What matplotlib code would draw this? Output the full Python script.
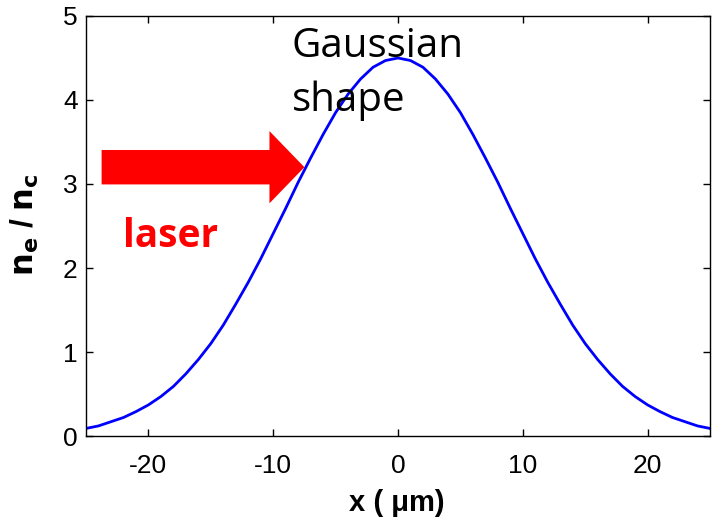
import matplotlib
matplotlib.use("Agg")
import matplotlib.pyplot as plt
import matplotlib.patches as mpatches

# density profile (x in um, ne/nc)
x_um = [-25, -24, -23, -22, -21, -20, -19, -18, -17, -16, -15, -14, -13, -12, -11,
        -10, -9, -8, -7, -6, -5, -4, -3, -2, -1, 0,
        1, 2, 3, 4, 5, 6, 7, 8, 9, 10, 11, 12, 13, 14,
        15, 16, 17, 18, 19, 20, 21, 22, 23, 24, 25]
ne_nc = [0.09, 0.12, 0.17, 0.22, 0.29, 0.37, 0.47, 0.59, 0.74, 0.91, 1.10, 1.32, 1.57, 1.83, 2.11,
         2.41, 2.71, 3.02, 3.31, 3.59, 3.85, 4.07, 4.25, 4.39, 4.47, 4.50,
         4.47, 4.39, 4.25, 4.07, 3.85, 3.59, 3.31, 3.02, 2.71, 2.41, 2.11, 1.83, 1.57, 1.32,
         1.10, 0.91, 0.74, 0.59, 0.47, 0.37, 0.29, 0.22, 0.17, 0.12, 0.09]

x_ticks = [-20, -10, 0, 10, 20]
y_ticks = [0, 1, 2, 3, 4, 5]

plt.rcParams["axes.unicode_minus"] = False
tick_font = ["Liberation Sans Narrow", "Liberation Sans", "DejaVu Sans"]

fig = plt.figure(figsize=(7.12, 5.18), dpi=100)
ax = fig.add_axes([86 / 712, 82 / 518, 624 / 712, 420 / 518])

ax.plot(x_um, ne_nc, color=(0, 0, 1), linewidth=2)

ax.set_xlim(-25, 25)
ax.set_ylim(0, 5)
ax.set_xticks(x_ticks)
ax.set_yticks(y_ticks)
ax.tick_params(direction="in", top=True, right=True, length=5, width=1)
ax.tick_params(axis="x", pad=13)
ax.tick_params(axis="y", pad=6)
for lab in ax.get_xticklabels() + ax.get_yticklabels():
    lab.set_family(tick_font)
    lab.set_fontsize(19)
for s in ax.spines.values():
    s.set_linewidth(1)

# red laser arrow
arrow = mpatches.FancyArrow(-23.75, 3.2, 16.25, 0, width=0.41, head_width=0.86,
                            head_length=2.8, length_includes_head=True,
                            color=(1, 0, 0), linewidth=0)
ax.add_patch(arrow)

ax.text(-22.0, 2.25, "laser", color=(1, 0, 0), fontsize=28, fontweight="bold",
        family=["Open Sans", "DejaVu Sans"], ha="left", va="baseline")
ax.text(-8.5, 4.88, "Gaussian\nshape", color="black", fontsize=29,
        family=["Open Sans", "DejaVu Sans"], ha="left", va="top", linespacing=1.45)

fig.text(25 / 712, 1 - 225 / 518, r"$\mathbf{n_e}$ / $\mathbf{n_c}$", rotation=90,
         ha="center", va="center", fontsize=23, fontweight="bold",
         family=tick_font)
fig.text(397 / 712, 1 / 518, "x ( \u03bcm)", ha="center", va="bottom",
         fontsize=21, fontweight="bold", family=tick_font)

fig.savefig("out.png", dpi=100)
